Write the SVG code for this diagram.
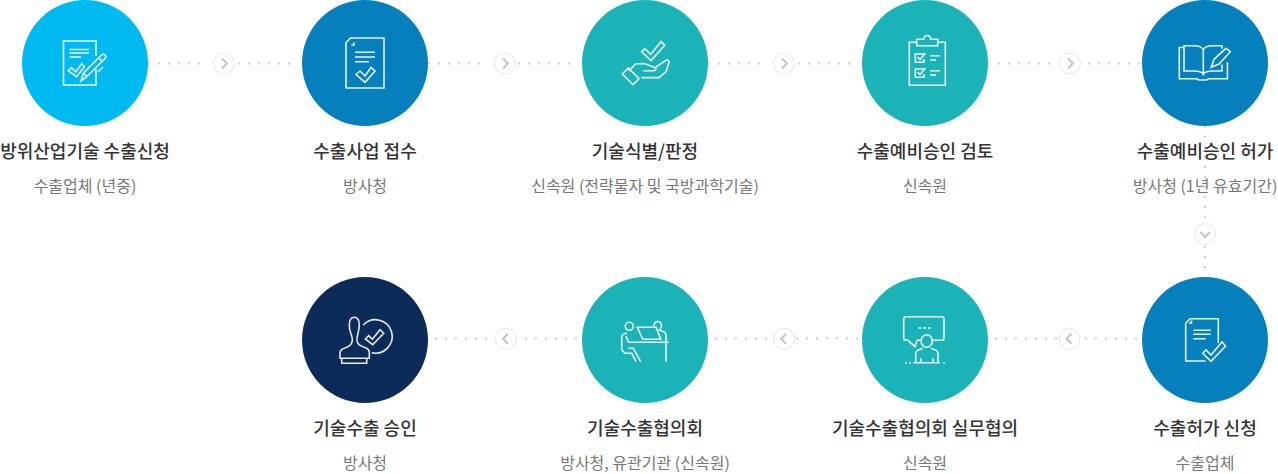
<svg xmlns="http://www.w3.org/2000/svg" width="1278" height="474" viewBox="0 0 1278 474">
<style>
text{font-family:"Noto Sans CJK KR","Noto Sans",sans-serif;text-anchor:middle}
.t{font-size:18px;font-weight:500;fill:#333}
.s{font-size:16px;fill:#777}
.i{fill:none;stroke:#fff;stroke-opacity:.9;stroke-width:1.6;stroke-linejoin:miter}
.d{fill:none;stroke:#d2d2d2;stroke-width:2.4;stroke-linecap:round;stroke-dasharray:0 10}
.b{fill:#fff;stroke:#e6e6e6;stroke-width:1}
.c{fill:none;stroke:#c4c4c4;stroke-width:2}
</style>
<g id="connectors">
<path class="d" d="M149 63.500H200M239 63.500H290M429 63.500H480M519 63.500H570M709 63.500H760M799 63.500H850M989 63.500H1050M1089 63.500H1140"/>
<path class="d" d="M1205 127V218M1205 247V268"/>
<path class="d" d="M1136 338.500H1085M1056 338.500H995M857 338.500H796M766 338.500H715M576 338.500H525M486 338.500H435"/>
<g id="arrows">
<circle class="b" cx="224" cy="63.500" r="10.500"/><path class="c" d="M222 58.500l5 5-5 5"/>
<circle class="b" cx="505" cy="63.500" r="10.500"/><path class="c" d="M503 58.500l5 5-5 5"/>
<circle class="b" cx="784" cy="63.500" r="10.500"/><path class="c" d="M782 58.500l5 5-5 5"/>
<circle class="b" cx="1070" cy="63.500" r="10.500"/><path class="c" d="M1068 58.500l5 5-5 5"/>
<circle class="b" cx="1205" cy="234" r="10.500"/><path class="c" d="M1200 232l5 5 5-5"/>
<circle class="b" cx="1069.500" cy="338.700" r="10.500"/><path class="c" d="M1071.500 333.700l-5 5 5 5"/>
<circle class="b" cx="784" cy="338.700" r="10.500"/><path class="c" d="M786 333.700l-5 5 5 5"/>
<circle class="b" cx="506" cy="338.700" r="10.500"/><path class="c" d="M508 333.700l-5 5 5 5"/>
</g>
</g>
<g id="n1"><circle cx="85" cy="63" r="63" fill="#00B9F1"/>
<path class="i" d="M96 56V41H63.500V85H96V69M69.500 49.500H89M69.500 53H89M69.500 57H81M68.300 70.700l3-3 4.400 4 6-8 2.800 3-8 10z"/>
<path class="i" d="M81 81l2.500-8 18-18q2-1.500 3.500 0t0 3.500l-18 18zM83.500 73l4 4M99 58l3 3M98 72l5-5"/>
<text class="t" x="85" y="158">방위산업기술 수출신청</text><text class="s" x="85" y="192">수출업체 (년중)</text></g>
<g id="n2"><circle cx="365" cy="63" r="63" fill="#0580BD"/>
<path class="i" d="M350.500 38H384V88H346V42.500zM354 42.500v2.500h-2.500M355 52.300h20M355 57h20M355 61.700h14M356 74.500l4-3.500 5 5 6-8.500 4 3.500-10 11.300z"/>
<text class="t" x="365" y="158">수출사업 접수</text><text class="s" x="365" y="192">방사청</text></g>
<g id="n3"><circle cx="645" cy="63" r="63" fill="#1CB3B8"/>
<path class="i" d="M641.700 51.700l3-3 6 5.600 10.300-12.600 3.700 3.600-13.700 15.400zM622.300 74l6-6 10.700 10.700-6 6zM628.700 71l7.300-7.300h9l10 4 11-7.400q3-1 3 2l-2.700 9-7.300 6.300h-17.700M643.300 70.700h11l2.400-2.700M627.500 74v.1"/>
<text class="t" x="645" y="158">기술식별/판정</text><text class="s" x="645" y="192">신속원 (전략물자 및 국방과학기술)</text></g>
<g id="n4"><circle cx="925" cy="63" r="63" fill="#1CB3B8"/>
<path class="i" d="M917 42.300h-7.700V85.300h36V42.300H938M916.700 39.300h7q.2-3.800 3.500-3.800t3.500 3.800h7V45.700h-21zM924 54h-8.700v8.300h8.700v-3M917.500 57l2.500 2.500 5.500-6.500M930 55.700h10M930 60h6M924 69h-8.700v8.300h8.700v-3M917.500 72l2.500 2.500 5.500-6.500M930 70.700h10M930 75h6"/>
<text class="t" x="925" y="158">수출예비승인 검토</text><text class="s" x="925" y="192">신속원</text></g>
<g id="n5"><circle cx="1205" cy="63" r="63" fill="#0580BD"/>
<path class="i" d="M1184 47.500h-4.700V78.700h17.300l2 1.300h8l2-1.300h18.800V62M1184 45.700h10q8 0 9.300 4.300V74q-2-3-9.300-3h-10zM1203.300 50q1.300-4.300 9.300-4.300h9.400v3M1222 64.500V71h-9.300q-7.400 0-9.400 3M1211.300 67.300l2.700-8 12-11 4.300 3.400-11.300 12.300z"/>
<text class="t" x="1205" y="158">수출예비승인 허가</text><text class="s" x="1205" y="192">방사청 (1년 유효기간)</text></g>
<g id="n6"><circle cx="1205" cy="340" r="63" fill="#0580BD"/>
<path class="i" d="M1218.300 343V318.700H1190L1185.700 323.300V361H1205.700M1189 323h2.500v-2.500M1193.300 330.300h17.400M1193.300 334.300h17.400M1193.300 338.700h12.400M1202.700 353.300l3.300-3.300 5 5 11-13 3.700 4-14.700 15.300z"/>
<text class="t" x="1205" y="435">수출허가 신청</text><text class="s" x="1205" y="469">수출업체</text></g>
<g id="n7"><circle cx="925" cy="340" r="63" fill="#1CB3B8"/>
<path class="i" d="M920.500 340.300H917l-2 6.400-7-6.400h-2.300q-2 0-2-2V319q0-2.300 2.300-2.300h36q2 0 2 2.300v19q0 2.300-2 2.300h-10.500M918.300 328h3M923 328h3M928 328h3"/>
<ellipse class="i" cx="926.700" cy="341" rx="5.600" ry="6.300"/>
<path class="i" d="M915.700 362V354q0-3.500 4-4.500l3-1.300M938 362V354q0-3.500-4-4.500l-3-1.300M921 358v4.500M933 358v4.500M913.300 362.700h26.700M905 362.700h2M909 362.700h2M943 362.700h2"/>
<text class="t" x="925" y="435">기술수출협의회 실무협의</text><text class="s" x="925" y="469">신속원</text></g>
<g id="n8"><circle cx="645" cy="340" r="63" fill="#1CB3B8"/>
<circle class="i" cx="629.300" cy="326.300" r="4"/>
<path class="i" d="M654 326q.3-4.500 3.800-4.500t3.700 4q0 3-2 4.500l3 1.300q3.500 1 3.500 4V361.700M637.300 327.300H656L660.700 339.300H642.700zM630 342.300H668.700M627 333q-5.300 1-5.300 4v13l3.300 3.300h6.700l4.300 8.400M626 336l2.500 6.300h7M628.300 348.300h5l7.400 13.400"/>
<text class="t" x="645" y="435">기술수출협의회</text><text class="s" x="645" y="469">방사청, 유관기관 (신속원)</text></g>
<g id="n9"><circle cx="365" cy="340" r="63" fill="#0D2B59"/>
<path class="i" d="M349.300 325q0-7.700 5-7.700t5 7.700q0 4-1.500 9t-.5 8q1 3.500 7.700 5.500 4.300 1.500 4.300 5V358.300H340V353q0-3.500 5-5 6-2 7-6 1-3-1-8t-1.700-9zM341.700 358.300v5h25v-5M363.300 325a16.700 16.700 0 1 1 8.400 27.700M365.300 339l3.400-3.300 3.600 3.600 7.700-9.600 3.700 3.600-11 11.400z"/>
<text class="t" x="365" y="435">기술수출 승인</text><text class="s" x="365" y="469">방사청</text></g>
</svg>
